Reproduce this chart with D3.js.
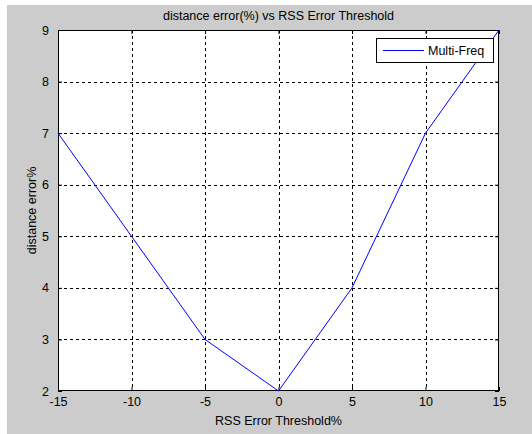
<!DOCTYPE html>
<html>
<head>
<meta charset="utf-8">
<script src="https://cdn.jsdelivr.net/npm/d3@7"></script>
<style>
  html, body { margin: 0; padding: 0; background: #fff; }
  svg { display: block; font-family: "Liberation Sans", Arial, sans-serif; }
</style>
</head>
<body>
<svg id="chart" width="532" height="434"></svg>
<script>
// data
const thresholds = [-15, -10, -5, 0, 5, 10, 15];
const distErr = [7, 5, 3, 2, 4, 7, 9];
const xTicks = [-15, -10, -5, 0, 5, 10, 15];
const yTicks = [2, 3, 4, 5, 6, 7, 8, 9];
const seriesName = "Multi-Freq";

const svg = d3.select("#chart");
const fs = 12.5;

// gray figure background
svg.append("rect")
    .attr("x", 7).attr("y", 5)
    .attr("width", 525).attr("height", 429)
    .attr("fill", "#cccccc");

const pL = 58, pR = 499, pT = 30, pB = 391;

const x = d3.scaleLinear().domain([-15, 15]).range([pL, pR]);
const y = d3.scaleLinear().domain([2, 9]).range([pB, pT]);

svg.append("rect")
    .attr("x", pL).attr("y", pT)
    .attr("width", pR - pL).attr("height", pB - pT)
    .attr("fill", "#fff");

// grid lines (dashed)
const grid = svg.append("g")
    .attr("stroke", "#000")
    .attr("stroke-width", 1)
    .attr("stroke-dasharray", "3,3")
    .attr("shape-rendering", "crispEdges");

grid.selectAll("line.gx")
    .data(xTicks.slice(1, -1))
    .enter().append("line")
    .attr("x1", d => Math.round(x(d)) + 0.5).attr("x2", d => Math.round(x(d)) + 0.5)
    .attr("y1", pT).attr("y2", pB);

grid.selectAll("line.gy")
    .data(yTicks.slice(1, -1))
    .enter().append("line")
    .attr("y1", d => Math.round(y(d)) + 0.5).attr("y2", d => Math.round(y(d)) + 0.5)
    .attr("x1", pL).attr("x2", pR);

// axes, ticks pointing inward like matlab
const fmt = d => String(d);
const xAxis = d3.axisBottom(x).tickValues(xTicks).tickFormat(fmt).tickSizeInner(-4).tickSizeOuter(0).tickPadding(6);
const yAxis = d3.axisLeft(y).tickValues(yTicks).tickFormat(fmt).tickSizeInner(-4).tickSizeOuter(0).tickPadding(9);

svg.append("g")
    .attr("transform", `translate(0,${pB})`)
    .call(xAxis);
svg.append("g")
    .attr("transform", `translate(${pL},0)`)
    .call(yAxis);

// mirrored ticks on top/right
svg.append("g")
    .attr("transform", `translate(0,${pT})`)
    .call(d3.axisTop(x).tickValues(xTicks).tickSizeInner(-4).tickSizeOuter(0).tickFormat(""));
svg.append("g")
    .attr("transform", `translate(${pR},0)`)
    .call(d3.axisRight(y).tickValues(yTicks).tickSizeInner(-4).tickSizeOuter(0).tickFormat(""));

svg.selectAll(".domain").remove();
svg.selectAll(".tick line").attr("stroke", "#000");
svg.selectAll(".tick text")
    .attr("font-size", fs)
    .attr("font-family", "Liberation Sans, Arial, sans-serif")
    .attr("fill", "#000");

// box
svg.append("rect")
    .attr("x", pL + 0.5).attr("y", pT + 0.5)
    .attr("width", pR - pL - 1).attr("height", pB - pT - 1)
    .attr("fill", "none")
    .attr("stroke", "#000")
    .attr("shape-rendering", "crispEdges");

// data line
const line = d3.line()
    .x((d, i) => x(thresholds[i]))
    .y(d => y(d));

svg.append("path")
    .datum(distErr)
    .attr("d", line)
    .attr("fill", "none")
    .attr("stroke", "#0000ff")
    .attr("stroke-width", 1);

// legend
const lg = svg.append("g");
lg.append("rect")
    .attr("x", 376.5).attr("y", 38.5)
    .attr("width", 117).attr("height", 24)
    .attr("fill", "#fff")
    .attr("stroke", "#000");
lg.append("line")
    .attr("x1", 383).attr("x2", 424)
    .attr("y1", 50.5).attr("y2", 50.5)
    .attr("stroke", "#0000ff");
lg.append("text")
    .attr("x", 428).attr("y", 55)
    .attr("font-size", fs)
    .text(seriesName);

// titles
svg.append("text")
    .attr("x", (pL + pR) / 2).attr("y", 20)
    .attr("text-anchor", "middle")
    .attr("font-size", fs)
    .text("distance error(%) vs RSS Error Threshold");

svg.append("text")
    .attr("x", (pL + pR) / 2).attr("y", 425)
    .attr("text-anchor", "middle")
    .attr("font-size", fs)
    .text("RSS Error Threshold%");

svg.append("text")
    .attr("transform", `translate(36,${(pT + pB) / 2}) rotate(-90)`)
    .attr("text-anchor", "middle")
    .attr("font-size", fs)
    .text("distance error%");
</script>
</body>
</html>
